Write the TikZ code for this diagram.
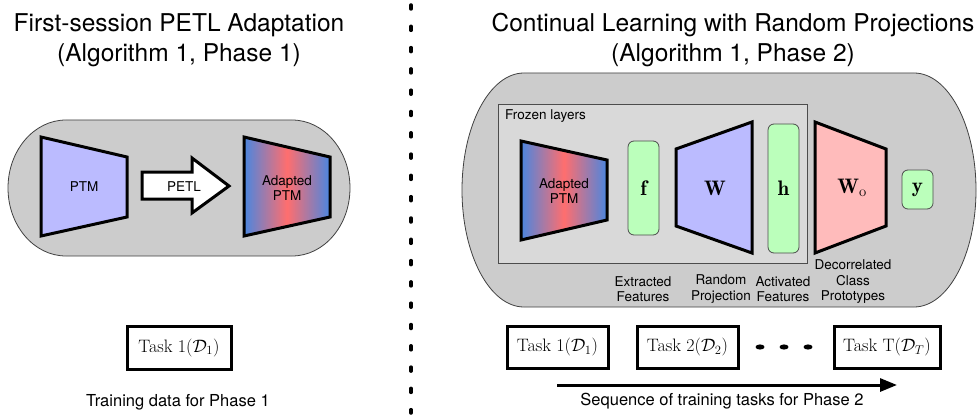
\RequirePackage{fix-cm}
\documentclass[tikz,border=0pt]{standalone}
\usepackage{amsmath}
\usepackage{fontspec}
\setsansfont{TeX Gyre Heros}
\usepackage{xcolor}
\usepackage{tikz}
\usetikzlibrary{arrows.meta,positioning}

\definecolor{pillgray}{HTML}{CCCCCC}
\definecolor{frozengray}{HTML}{D9D9D9}
\definecolor{ptmblue}{HTML}{BBBBFF}
\definecolor{vecgreen}{HTML}{BBFFBB}
\definecolor{protopink}{HTML}{FFBBBB}
\definecolor{shadeblue}{HTML}{4A86E0}
\definecolor{shadered}{HTML}{FF6E6E}
\pgfdeclarehorizontalshading{adapted}{100bp}{color(0bp)=(shadeblue); color(25bp)=(shadeblue); color(50bp)=(shadered); color(75bp)=(shadeblue); color(100bp)=(shadeblue)}

\begin{document}
\begin{tikzpicture}[x=1pt,y=-1pt,
  every node/.style={inner sep=0pt},
  trap/.style={draw=black,line width=3pt,line join=miter},
  pill/.style={fill=pillgray,draw=black!75,line width=0.8pt},
  vecbox/.style={draw=black!70,fill=vecgreen,rounded corners=6pt,line width=0.8pt},
  taskbox/.style={draw,line width=3pt,minimum width=101pt,minimum height=42pt,font=\fontsize{18}{20}\selectfont},
  lbl/.style={font=\sffamily\fontsize{13.5}{15.5}\selectfont,align=center},
  ttl/.style={font=\sffamily\fontsize{24.5}{30}\selectfont,align=center},
  capt/.style={font=\sffamily\fontsize{16.5}{19}\selectfont},
  bold/.style={font=\fontsize{21}{24}\selectfont}]
  \useasboundingbox (0,0) rectangle (977,417);

  % Phase 1
  \node[ttl] (titleone) at (179,40) {First-session PETL Adaptation\\(Algorithm 1, Phase 1)};
  \draw[pill] (66,120) -- (292,120) arc[start angle=-90,end angle=90,x radius=58,y radius=68]
    -- (66,256) arc[start angle=90,end angle=270,x radius=58,y radius=68] -- cycle;
  \draw[trap,fill=ptmblue] (41,137) -- (127,157) -- (127,217) -- (41,236) -- cycle;
  \node[lbl] (ptm) at (84,187) {PTM};
  \draw[trap,fill=white] (142,172) -- (192,172) -- (192,158) -- (229,186) -- (192,213) -- (192,199) -- (142,199) -- cycle;
  \node[lbl] (petl) at (184,187) {PETL};
  \path[trap,shade,shading=adapted] (244,137) -- (330,157) -- (330,217) -- (244,236) -- cycle;
  \node[lbl] (adptm) at (287,188) {Adapted\\PTM};
  \node[taskbox,minimum width=104pt,minimum height=43pt] (taskone) at (179,347.5) {Task $1(\mathcal{D}_1)$};
  \node[capt] (trainone) at (178,402) {Training data for Phase 1};

  % dotted divider
  \draw[line width=3.5pt,line cap=round,dash pattern=on 4pt off 17.3pt] (411,5) -- (411,413);

  % Phase 2
  \node[ttl] (titletwo) at (733,40) {Continual Learning with Random Projections\\(Algorithm 1, Phase 2)};
  \draw[pill] (524,73) -- (914,73) arc[start angle=-90,end angle=90,x radius=62,y radius=117]
    -- (524,307) arc[start angle=90,end angle=270,x radius=62,y radius=117] -- cycle;
  \draw[fill=frozengray,draw=black!70,line width=0.8pt] (498,104) rectangle (807,263);
  \node[lbl,anchor=west] (frozen) at (505,116) {Frozen layers};
  \path[trap,shade,shading=adapted] (521,141) -- (607,160) -- (607,220) -- (521,240) -- cycle;
  \node[lbl] (adptmtwo) at (564,191) {Adapted\\PTM};
  \node[vecbox,minimum width=31pt,minimum height=94pt] (fvec) at (643.5,188) {};
  \node[bold] at (fvec) {$\mathbf{f}$};
  \draw[trap,fill=ptmblue] (676,149) -- (752,122) -- (752,253) -- (676,226) -- cycle;
  \node[bold] (wmat) at (715,188) {$\mathbf{W}$};
  \node[vecbox,minimum width=31pt,minimum height=129pt] (hvec) at (783.5,188.5) {};
  \node[bold] at (hvec) {$\mathbf{h}$};
  \draw[trap,fill=protopink] (815,122) -- (886,149) -- (886,226) -- (815,253) -- cycle;
  \node[bold] (womat) at (852,188) {$\mathbf{W}_\mathrm{o}$};
  \node[vecbox,minimum width=31pt,minimum height=39pt] (yvec) at (917.5,189.5) {};
  \node[bold] at (yvec) {$\mathbf{y}$};
  \node[lbl] (extracted) at (643,289) {Extracted\\Features};
  \node[lbl] (randproj) at (721,289) {Random\\Projection};
  \node[lbl] (activated) at (783,289) {Activated\\Features};
  \node[lbl] (decor) at (853,282) {Decorrelated\\Class\\Prototypes};

  \node[taskbox] (tone) at (557.5,347) {Task $1(\mathcal{D}_1)$};
  \node[taskbox] (ttwo) at (687.5,347) {Task $2(\mathcal{D}_2)$};
  \node[taskbox,minimum width=106pt] (tlast) at (887,347) {Task $\mathrm{T}(\mathcal{D}_T)$};
  \foreach \dx in {760,784,808}
    \fill (\dx,347) ellipse [x radius=4.5,y radius=2.6];
  \coordinate (seqstart) at (557,385);
  \coordinate (seqend) at (897,385);
  \draw[line width=3pt,-{Triangle[length=17pt,width=13pt]}] (seqstart) -- (seqend);
  \node[capt] (seqtext) at (722,401) {Sequence of training tasks for Phase 2};
\end{tikzpicture}
\end{document}
